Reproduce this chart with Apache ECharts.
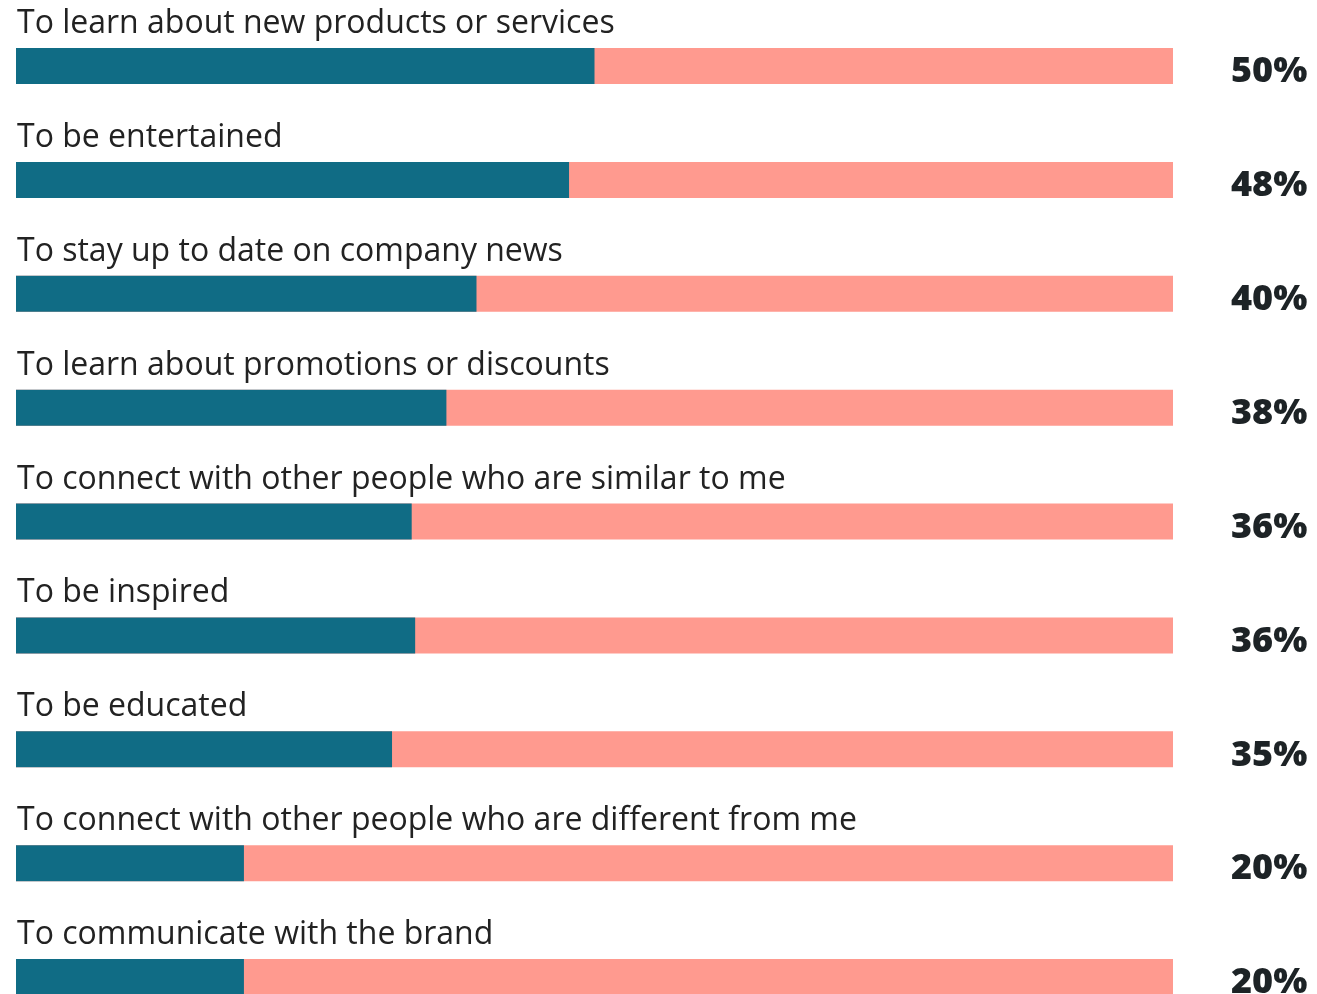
<!DOCTYPE html>
<html>
<head>
<meta charset="utf-8">
<title>Reasons to follow brands</title>
<script src="https://cdn.jsdelivr.net/npm/echarts@6/dist/echarts.min.js"></script>
<style>
  html, body { margin: 0; padding: 0; background: #fff; }
  #chart { width: 1317px; height: 994px; }
</style>
</head>
<body>
<div id="chart"></div>
<script>
// reasons, top to bottom
var reasons = [
	'To learn about new products or services',
	'To be entertained',
	'To stay up to date on company news',
	'To learn about promotions or discounts',
	'To connect with other people who are similar to me',
	'To be inspired',
	'To be educated',
	'To connect with other people who are different from me',
	'To communicate with the brand'
];
// teal bar length (share of full bar)
var barShare = [50.0, 47.8, 39.8, 37.2, 34.2, 34.5, 32.5, 19.7, 19.7];
// printed values on the right
var pctLabels = ['50%', '48%', '40%', '38%', '36%', '36%', '35%', '20%', '20%'];

var teal = '#106c85';
var salmon = '#ff9a8f';
var textFont = "'Open Sans', sans-serif";

var chart = echarts.init(document.getElementById('chart'));

var option = {
	animation: false,
	grid: {
		top: 66,
		bottom: 17,
		left: 16,
		right: 144,
		outerBoundsMode: 'none'
	},
	xAxis: {
		type: 'value',
		min: 0,
		max: 100,
		show: false
	},
	yAxis: [{
		type: 'category',
		data: reasons,
		inverse: true,
		boundaryGap: false,
		axisLine: { show: false },
		axisTick: { show: false },
		axisLabel: { show: false },
		splitLine: { show: false }
	}, {
		type: 'category',
		data: pctLabels,
		inverse: true,
		boundaryGap: false,
		position: 'right',
		axisLine: { show: false },
		axisTick: { show: false },
		splitLine: { show: false },
		axisLabel: {
			margin: 58,
			align: 'left',
			formatter: '{p|{value}}',
			rich: {
				p: {
					color: '#1d2326',
					fontFamily: textFont,
					fontWeight: 800,
					fontSize: 36,
					padding: [12, 0, 0, 0]
				}
			}
		}
	}],
	series: [{
		name: 'share',
		type: 'bar',
		yAxisIndex: 0,
		barWidth: 36,
		data: barShare,
		itemStyle: { color: teal },
		showBackground: true,
		backgroundStyle: { color: salmon },
		label: {
			show: true,
			position: [1, -24],
			align: 'left',
			verticalAlign: 'middle',
			formatter: '{b}',
			color: '#222',
			fontFamily: textFont,
			fontSize: 32
		}
	}]
};

chart.setOption(option);
</script>
</body>
</html>
